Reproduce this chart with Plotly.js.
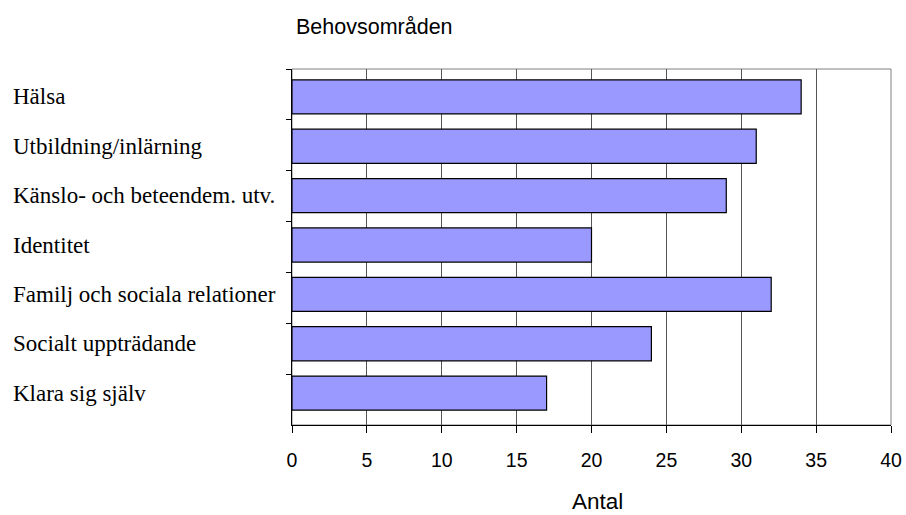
<!DOCTYPE html>
<html>
<head>
<meta charset="utf-8">
<script src="https://cdn.plot.ly/plotly-3.0.1.min.js"></script>
<style>
html,body{margin:0;padding:0;background:#fff;}
#chart{width:906px;height:515px;}
</style>
</head>
<body>
<div id="chart"></div>
<script>
// ---- data ----
var categories = ["Hälsa", "Utbildning/inlärning", "Känslo- och beteendem. utv.", "Identitet",
                  "Familj och sociala relationer", "Socialt uppträdande", "Klara sig själv"];
var values = [34, 31, 29, 20, 32, 24, 17];
var xTickValues = [0, 5, 10, 15, 20, 25, 30, 35, 40];
var chartTitle = "Behovsområden";
var xTitle = "Antal";

var sans = "'Liberation Sans', Arial, sans-serif";
var serif = "'Liberation Serif', 'Times New Roman', serif";

var bars = {
  type: "bar",
  orientation: "h",
  x: values,
  y: categories,
  xaxis: "x",
  yaxis: "y2",
  marker: {color: "#9999ff", line: {color: "#000000", width: 1.2}},
  hoverinfo: "x+y"
};

// helper trace carrying the categories for the tick (boundary) axis
var tickCarrier = {
  type: "scatter",
  mode: "none",
  x: values,
  y: categories,
  xaxis: "x",
  yaxis: "y",
  hoverinfo: "skip",
  showlegend: false
};

var labelAnnotations = categories.map(function (c) {
  return {
    text: c,
    xref: "paper", x: -0.4691, xanchor: "left",
    yref: "y2", y: c, yanchor: "middle",
    showarrow: false,
    font: {family: serif, size: 23, color: "#000000"}
  };
});

labelAnnotations.push({
  text: chartTitle,
  xref: "paper", x: 0.004, xanchor: "left",
  yref: "paper", y: 1.118, yanchor: "middle",
  showarrow: false,
  font: {family: sans, size: 21.5, color: "#000000"}
});
labelAnnotations.push({
  text: xTitle,
  xref: "paper", x: 0.5097, xanchor: "center",
  yref: "paper", y: -0.215, yanchor: "middle",
  showarrow: false,
  font: {family: sans, size: 22.5, color: "#000000"}
});

var layout = {
  width: 906, height: 515,
  margin: {l: 292, r: 15, t: 69, b: 90, pad: 0},
  paper_bgcolor: "#ffffff",
  plot_bgcolor: "rgba(0,0,0,0)",
  showlegend: false,
  bargap: 0.31,
  xaxis: {
    range: [0, 40],
    tickvals: xTickValues,
    ticks: "outside", ticklen: 7, tickcolor: "#000000", tickwidth: 1,
    ticklabelstandoff: 11,
    showgrid: true, gridcolor: "#555555", gridwidth: 1,
    zeroline: false,
    showline: true, linecolor: "#000000", linewidth: 1,
    tickfont: {family: sans, size: 19.5, color: "#000000"},
    anchor: "y",
    fixedrange: true
  },
  yaxis: {
    domain: [0, 1],
    type: "category",
    categoryorder: "array", categoryarray: categories,
    range: [6.5, -0.5],
    tickson: "boundaries",
    ticks: "outside", ticklen: 5, tickcolor: "#000000", tickwidth: 1,
    showticklabels: false,
    showgrid: false, zeroline: false,
    showline: true, linecolor: "#000000", linewidth: 1,
    anchor: "x",
    fixedrange: true
  },
  yaxis2: {
    domain: [0.0202, 0.991],
    type: "category",
    categoryorder: "array", categoryarray: categories,
    range: [6.5, -0.5],
    ticks: "", showticklabels: false,
    showgrid: false, zeroline: false, showline: false,
    anchor: "x",
    fixedrange: true
  },
  shapes: [{
    type: "rect", xref: "paper", yref: "paper",
    x0: 0, x1: 1, y0: 0, y1: 1,
    line: {color: "#808080", width: 1},
    layer: "below"
  }],
  annotations: labelAnnotations
};

Plotly.newPlot("chart", [tickCarrier, bars], layout, {displayModeBar: false, staticPlot: true});
</script>
</body>
</html>
